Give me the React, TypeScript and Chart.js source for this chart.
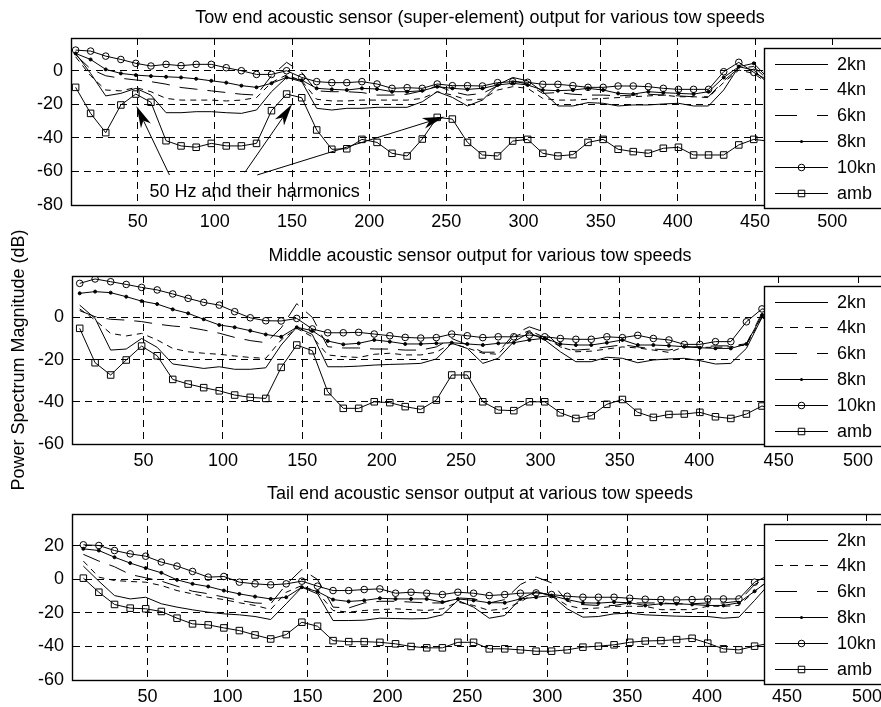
import React, { useEffect, useRef } from "react";
import { Chart, registerables } from "chart.js";

Chart.register(...registerables);

// ---------- data ----------
const FREQ_HZ = [9.8, 19.5, 29.3, 39.1, 48.8, 58.6, 68.4, 78.1, 87.9, 97.7, 107.4, 117.2, 127.0, 136.7, 146.5, 156.3, 166.0, 175.8, 185.5, 195.3, 205.1, 214.8, 224.6, 234.4, 244.1, 253.9, 263.7, 273.4, 283.2, 293.0, 302.7, 312.5, 322.3, 332.0, 341.8, 351.6, 361.3, 371.1, 380.9, 390.6, 400.4, 410.2, 419.9, 429.7, 439.5, 449.2, 459.0, 468.8, 478.5, 488.3, 498.0, 507.8, 517.6];

const SERIES_LABELS = ["2kn", "4kn", "6kn", "8kn", "10kn", "amb"];
const X_TICKS = [50, 100, 150, 200, 250, 300, 350, 400, 450, 500];
const TOP_Y_TICKS = [-80, -60, -40, -20, 0];
const MID_Y_TICKS = [-60, -40, -20, 0];
const BOT_Y_TICKS = [-60, -40, -20, 0, 20];

const TOP_TITLE = "Tow end acoustic sensor (super-element) output for various tow speeds";
const MID_TITLE = "Middle acoustic sensor output for various tow speeds";
const BOT_TITLE = "Tail end acoustic sensor output at various tow speeds";
const Y_LABEL = "Power Spectrum Magnitude (dB)";

const TOP_2KN = [10.3, -1.6, -15.0, -13.5, -10.5, -14.5, -25.0, -25.0, -24.4, -24.4, -25.0, -25.4, -23.4, -12.5, -4.0, -6.5, -22.4, -23.4, -22.4, -22.4, -21.8, -21.8, -21.8, -18.5, -12.5, -15.9, -21.0, -17.5, -8.5, -4.0, -6.0, -12.5, -21.0, -21.0, -19.0, -19.4, -21.0, -20.4, -20.4, -19.8, -19.4, -21.0, -21.0, -11.5, 2.4, 0.4, -8, -12, -14, -15, -15, -16, -16];
const TOP_4KN = [8.3, -3, -11.5, -12, -10, -12.5, -16.5, -17.5, -17.5, -17.5, -18, -17.5, -16, -7, -2.5, -6, -17, -18, -18, -17.5, -17.5, -17.5, -17.5, -16.5, -12.5, -14.5, -17.5, -16.9, -11.5, -9.5, -10.5, -16.5, -17.5, -17.5, -17, -16.5, -16, -15.5, -15, -14.5, -15.5, -15.5, -16, -7, 0.4, -1.6, -8, -11, -13, -13, -14, -14, -15];
const TOP_6KN = [9.5, 1, -3, -4.5, -5.5, -6.5, -8, -10, -11, -12, -13, -14, -14.5, -3, 5, -1, -12, -12.5, -12.5, -13, -14.5, -14.5, -14, -12, -9, -12.5, -14.5, -13.5, -9, -6, -8, -13.5, -13, -14, -14.5, -14.5, -15, -14.5, -14, -14.5, -15, -15.5, -15.5, -6, 1.5, 2.5, -6, -10, -12, -12, -13, -13, -14];
const TOP_8KN = [10.3, 6.7, 0.8, -1.6, -2.6, -3.2, -3.6, -4.0, -4.8, -6.0, -7.1, -8.9, -9.9, -7.5, -4.0, -5.6, -10.5, -11.1, -11.5, -10.5, -10.9, -12.5, -12.5, -11.9, -9.5, -10.5, -11.1, -10.5, -8.5, -7.5, -8.5, -11.5, -11.9, -11.5, -10.5, -11.5, -13.5, -13.9, -12.5, -13.1, -13.5, -13.9, -12.5, -4.0, 2.4, 4.4, -5, -9, -11, -11, -12, -12, -13];
const TOP_10KN = [12.3, 11.7, 8.7, 6.7, 4.4, 2.8, 3.8, 3.0, 3.8, 3.8, 1.8, 0.0, -2.2, -2.2, 0.0, -4.0, -6.5, -7.1, -7.1, -6.5, -7.9, -10.5, -10.1, -10.5, -7.9, -8.9, -8.9, -9.1, -7.1, -6.5, -6.9, -8.1, -8.1, -8.9, -9.9, -9.9, -9.1, -9.1, -9.5, -10.5, -11.1, -11.1, -11.1, -0.6, 5.0, -1.0, -6, -9, -10, -10, -11, -11, -12];
const TOP_AMB = [-9.9, -25.4, -36.9, -20.4, -13.9, -18.8, -41.7, -44.8, -45.6, -43.3, -44.8, -44.8, -43.3, -23.8, -13.9, -16.1, -35.3, -46.8, -46.5, -40.9, -42.7, -49.2, -50.8, -40.7, -27.8, -28.8, -42.7, -50.2, -50.8, -41.9, -40.9, -49.2, -50.8, -50.0, -42.7, -40.9, -46.8, -48.2, -49.2, -46.2, -45.6, -50.2, -50.2, -50.2, -44.2, -40.9, -42, -45, -47, -46, -45, -47, -48];

const MID_2KN = [5.8, -0.5, -15.5, -15.0, -10.0, -14.2, -22.1, -23.1, -24.2, -23.4, -24.6, -24.6, -23.9, -13.1, -4.7, -8.1, -23.4, -23.4, -23.1, -22.6, -22.3, -22.1, -21.8, -19.7, -12.3, -14.7, -21.8, -19.4, -11.5, -7.3, -10.7, -16.3, -21.0, -21.0, -18.9, -19.4, -21.5, -20.2, -19.7, -19.4, -20.5, -22.1, -21.8, -14.7, 0, -5, -10, -13, -15, -16, -16, -17, -17];
const MID_4KN = [4, -1.3, -7.6, -8.8, -7.6, -10.7, -14.7, -16.3, -17, -17.5, -18.3, -19, -19.4, -10.7, -5.2, -9.2, -17.8, -18.6, -19, -17.5, -17, -17.8, -17.8, -16.5, -12.3, -14.5, -17, -17.5, -9.2, -6.3, -9.5, -13.9, -16.3, -16, -15, -14, -14.5, -15.5, -16.6, -13.9, -14.2, -14.2, -13.9, -13.1, 0, -5, -9, -12, -13, -14, -14, -15, -15];
const MID_6KN = [3.2, 0.3, -0.9, -1.3, -2, -3.2, -4.1, -4.7, -6, -7.5, -9.5, -11, -12, -5, 6.5, 0, -13.9, -14.5, -14.5, -15, -15, -15.5, -15.5, -14, -10, -13, -16.5, -16.5, -8, -4.5, -7, -14, -15.5, -15, -14, -13, -14, -15, -15.5, -14, -14, -13.5, -13.5, -12.5, 2, -3, -7, -10, -12, -13, -13, -14, -14];
const MID_8KN = [11.4, 12.2, 11.7, 9.8, 7.7, 6.3, 3.8, 1.9, -0.9, -3.6, -4.7, -6.3, -8.1, -9.2, -4.7, -6.3, -11.2, -12.8, -12.3, -10.7, -11.5, -12.6, -12.6, -12.3, -12.0, -12.6, -13.1, -12.3, -12.0, -10.7, -9.9, -12.6, -13.1, -13.1, -12.0, -10.7, -13.1, -13.1, -13.4, -13.9, -14.4, -14.7, -14.7, -12.6, 1, -4, -8, -10, -11, -12, -12, -13, -13];
const MID_10KN = [16.1, 18.2, 16.9, 15.6, 14.2, 13.0, 11.1, 9.0, 7.1, 5.8, 2.7, -0.2, -1.6, -1.7, -0.5, -5.5, -7.3, -7.3, -7.1, -7.9, -8.7, -9.5, -9.8, -9.6, -7.9, -8.7, -9.6, -9.2, -9.2, -8.4, -9.2, -10.0, -10.4, -10.4, -9.2, -9.6, -8.5, -10.0, -10.7, -12.8, -12.8, -11.5, -11.5, -2.1, 4, 3, -2, -6, -8, -9, -10, -10, -11];
const MID_AMB = [-5.2, -21.5, -27.3, -20.2, -13.6, -18.2, -29.4, -31.6, -33.3, -34.8, -36.8, -37.9, -38.4, -23.7, -13.1, -15.8, -35.2, -43.1, -43.1, -40.0, -40.4, -42.3, -43.6, -39.2, -27.3, -27.3, -40.0, -43.9, -44.2, -40.0, -40.0, -45.2, -47.9, -46.6, -41.2, -38.9, -45.0, -47.4, -46.0, -45.8, -45.0, -47.1, -47.9, -45.8, -42, -44, -46, -47, -45, -46, -47, -46, -47];

const BOT_2KN = [8.0, -1.0, -9.6, -11.6, -10.6, -14.5, -16.5, -18.1, -19.5, -20.5, -21.1, -22.1, -23.9, -14.5, -4.6, -8.6, -24.5, -24.5, -24.3, -23.1, -23.3, -23.5, -23.3, -21.1, -12.5, -16.5, -23.1, -21.5, -11.6, -7.2, -9.6, -17.5, -22.5, -22.1, -20.5, -20.1, -21.1, -21.5, -21.9, -22.1, -22.1, -23.1, -22.5, -12.5, -2, -6, -10, -13, -15, -16, -16, -17, -17];
const BOT_4KN = [11, 1.4, -0.6, -1.2, -1.6, -3.6, -6.6, -8.6, -10.6, -12, -13.9, -15.5, -17.9, -7.6, -3.6, -7.6, -18.5, -19.5, -18.5, -18, -17.5, -18, -18.5, -17.5, -13.5, -15.5, -18.5, -17.5, -13.5, -7.5, -9.5, -15.5, -17.5, -17, -16, -16, -16, -18, -18, -18, -16, -16, -15.5, -7, 0, -5, -9, -12, -13, -14, -14, -15, -15];
const BOT_6KN = [15, 11, 7.6, 3, 1, -1, -4, -7, -8.5, -10.5, -12.5, -14, -14.5, -3, 6, 0, -16.5, -17, -14, -13, -13, -13.5, -14, -14, -11, -11.5, -14, -12, -3, 1.5, -2, -13, -15, -15.5, -15.5, -14, -14, -14, -14.5, -14.5, -14, -14, -13, -3, 2, -3, -7, -10, -11, -12, -12, -13, -13];
const BOT_8KN = [18.3, 17.3, 13.3, 9.8, 6.8, 4.0, -0.2, -2.6, -4.2, -6.6, -8.6, -10.2, -11.6, -10.6, -4.6, -7.2, -12.0, -13.1, -12.5, -11.2, -11.6, -11.6, -11.6, -13.5, -11.6, -12.5, -13.9, -13.9, -11.6, -10.6, -9.6, -12.0, -13.9, -14.1, -13.5, -13.9, -15.5, -14.5, -14.5, -14.9, -15.5, -15.5, -13.9, -7, 0, -4, -8, -10, -11, -12, -12, -13, -13];
const BOT_10KN = [20.7, 20.3, 17.3, 15.3, 13.9, 10.4, 8.0, 4.8, 1.4, 1.8, -1.6, -2.6, -3.2, -2.6, -1.0, -4.0, -6.6, -6.6, -6.0, -5.6, -8.2, -7.6, -8.2, -9.0, -7.6, -8.2, -9.6, -9.0, -8.2, -8.0, -9.0, -10.0, -10.6, -10.6, -10.6, -11.2, -11.8, -12.0, -12.2, -12.0, -11.6, -11.6, -11.6, -1.6, 3, -2, -6, -8, -9, -10, -10, -11, -11];
const BOT_AMB = [0.8, -7.6, -14.9, -17.1, -17.5, -19.1, -23.1, -26.5, -27.1, -28.9, -30.5, -33.1, -35.5, -32.9, -25.5, -27.9, -36.5, -37.1, -37.1, -37.5, -38.4, -40.0, -40.8, -40.8, -37.5, -37.5, -41.4, -41.4, -42.0, -42.8, -42.8, -42.0, -40.4, -39.8, -39.0, -37.5, -36.7, -36.5, -35.9, -35.1, -38.0, -41.4, -42.0, -39.8, -38, -40, -42, -43, -41, -42, -43, -42, -43];

// annotation in the top panel (Hz, dB)
const NOTE_TEXT = "50 Hz and their harmonics";
const NOTE_AT = [57.7, -75];
const ARROW_TAILS = [[70.6, -62.1], [119.5, -60.5], [127.5, -62.1]];
const ARROW_TIPS = [[49.2, -21.0], [150.0, -20.0], [248.8, -27.4]];

// ---------- styles ----------
const FONT = "'Liberation Sans', Arial, Helvetica, sans-serif";
const FS = 18;
const CANVAS_W = 960;
const TITLE_BLOCK = 38;
const X_AXIS_H = 30;
const GRID_DASH = [7, 5];
const STYLES = [
  { dash: [], legendDash: [], radius: 0, pointStyle: "circle", fill: "#000" },
  { dash: [6, 5], legendDash: [8, 7], radius: 0, pointStyle: "circle", fill: "#000" },
  { dash: [18, 10], legendDash: [22, 20], radius: 0, pointStyle: "circle", fill: "#000" },
  { dash: [], legendDash: [], radius: 1.5, pointStyle: "circle", fill: "#000" },
  { dash: [], legendDash: [], radius: 3.3, pointStyle: "circle", fill: "rgba(0,0,0,0)" },
  { dash: [], legendDash: [], radius: 4.6, pointStyle: "rect", fill: "rgba(0,0,0,0)" },
];

type Panel = {
  title: string; chartTop: number; plotH: number; chartLeft: number; extra: number;
  xMin: number; xMax: number; yMin: number; yMax: number; yTicks: number[];
  values: number[][]; yLabel?: string; note?: boolean;
};

const PANELS: Panel[] = [
  { title: TOP_TITLE, chartTop: 38, plotH: 167, chartLeft: 71, extra: 0, xMin: 6.8, xMax: 579.2, yMin: -80, yMax: 19.5, yTicks: TOP_Y_TICKS,
    values: [TOP_2KN, TOP_4KN, TOP_6KN, TOP_8KN, TOP_10KN, TOP_AMB], note: true },
  { title: MID_TITLE, chartTop: 276, plotH: 168, chartLeft: 72, extra: 40, xMin: 4.95, xMax: 560.7, yMin: -60, yMax: 19.6, yTicks: MID_Y_TICKS,
    values: [MID_2KN, MID_4KN, MID_6KN, MID_8KN, MID_10KN, MID_AMB], yLabel: Y_LABEL },
  { title: BOT_TITLE, chartTop: 514, plotH: 166, chartLeft: 72, extra: 0, xMin: 2.7, xMax: 554.7, yMin: -60, yMax: 39.1, yTicks: BOT_Y_TICKS,
    values: [BOT_2KN, BOT_4KN, BOT_6KN, BOT_8KN, BOT_10KN, BOT_AMB] },
];

const framePlugin = {
  id: "frameBox",
  afterDatasetsDraw(chart: any) {
    const { ctx, chartArea: a } = chart;
    ctx.save();
    ctx.setLineDash([]);
    ctx.strokeStyle = "#000";
    ctx.lineWidth = 1.4;
    ctx.strokeRect(Math.round(a.left) + 0.5, Math.round(a.top) + 0.5, Math.round(a.right - a.left), Math.round(a.bottom - a.top));
    ctx.restore();
  },
};

function drawArrow(ctx: CanvasRenderingContext2D, x1: number, y1: number, x2: number, y2: number) {
  const ang = Math.atan2(y2 - y1, x2 - x1);
  const L = 22, W = 5.5, notch = 6;
  const c = Math.cos(ang), s = Math.sin(ang);
  const nx = -s, ny = c;
  const mx = x2 - c * (L - notch), my = y2 - s * (L - notch);
  ctx.beginPath();
  ctx.moveTo(x1, y1);
  ctx.lineTo(mx, my);
  ctx.stroke();
  const bx = x2 - c * L, by = y2 - s * L;
  ctx.beginPath();
  ctx.moveTo(x2, y2);
  ctx.lineTo(bx + nx * W, by + ny * W);
  ctx.lineTo(mx, my);
  ctx.lineTo(bx - nx * W, by - ny * W);
  ctx.closePath();
  ctx.fill();
}

const notePlugin = {
  id: "noteArrows",
  afterDatasetsDraw(chart: any) {
    if (!chart.options.plugins.noteArrows?.show) return;
    const { ctx } = chart;
    const xs = chart.scales.x, ys = chart.scales.y;
    ctx.save();
    ctx.setLineDash([]);
    ctx.strokeStyle = "#000";
    ctx.fillStyle = "#000";
    ctx.lineWidth = 1;
    ARROW_TAILS.forEach((t, i) => {
      const h = ARROW_TIPS[i];
      drawArrow(ctx, xs.getPixelForValue(t[0]), ys.getPixelForValue(t[1]), xs.getPixelForValue(h[0]), ys.getPixelForValue(h[1]));
    });
    ctx.font = `${FS}px ${FONT}`;
    ctx.textAlign = "left";
    ctx.textBaseline = "alphabetic";
    ctx.fillText(NOTE_TEXT, xs.getPixelForValue(NOTE_AT[0]), ys.getPixelForValue(NOTE_AT[1]));
    ctx.restore();
  },
};

const legendPlugin = {
  id: "boxLegend",
  afterDraw(chart: any) {
    const { ctx, chartArea: a } = chart;
    const left = 764, top = Math.round(a.top) + 10, w = 220, h = 160;
    ctx.save();
    ctx.setLineDash([]);
    ctx.fillStyle = "#fff";
    ctx.fillRect(left, top, w, h);
    ctx.strokeStyle = "#000";
    ctx.lineWidth = 1.4;
    ctx.strokeRect(left + 0.5, top + 0.5, w, h);
    ctx.font = `${FS}px ${FONT}`;
    ctx.textAlign = "left";
    ctx.textBaseline = "middle";
    chart.data.datasets.forEach((ds: any, i: number) => {
      const y = Math.round(top + 15.5 + i * 25.8) + 0.5;
      const st = STYLES[i];
      ctx.lineWidth = 1;
      ctx.strokeStyle = "#000";
      ctx.setLineDash(st.legendDash);
      ctx.beginPath();
      ctx.moveTo(775, y);
      ctx.lineTo(828, y);
      ctx.stroke();
      ctx.setLineDash([]);
      const cx = 801.5;
      if (st.radius > 0) {
        ctx.beginPath();
        if (st.pointStyle === "rect") {
          const half = st.radius * Math.SQRT1_2;
          ctx.rect(cx - half, y - half, half * 2, half * 2);
          ctx.stroke();
        } else {
          ctx.arc(cx, y, st.radius, 0, Math.PI * 2);
          if (st.fill === "#000") ctx.fill(); else ctx.stroke();
        }
      }
      ctx.fillStyle = "#000";
      ctx.fillText(ds.label, 837, y + 1);
    });
    ctx.restore();
  },
};

function canvasTop(p: Panel) { return p.chartTop - TITLE_BLOCK - p.extra; }
function canvasH(p: Panel) { return TITLE_BLOCK + p.plotH + X_AXIS_H + 2 * p.extra; }

function buildConfig(p: Panel): any {
  const datasets = SERIES_LABELS.map((label, j) => {
    const st = STYLES[j];
    return {
      label,
      data: FREQ_HZ.map((f, k) => ({ x: f, y: p.values[j][k] })),
      borderColor: "#000",
      borderWidth: 1,
      borderDash: st.dash,
      pointRadius: st.radius,
      pointHoverRadius: st.radius,
      pointStyle: st.pointStyle,
      pointBackgroundColor: st.fill,
      pointBorderColor: "#000",
      pointBorderWidth: 1,
      fill: false,
      tension: 0,
    };
  });
  const tickFont = { family: FONT, size: FS };
  return {
    type: "line",
    data: { datasets },
    options: {
      responsive: false,
      animation: false,
      devicePixelRatio: 1,
      layout: { padding: { top: p.extra, bottom: p.extra, left: 0, right: 0 } },
      events: [],
      plugins: {
        legend: { display: false },
        tooltip: { enabled: false },
        title: { display: true, text: p.title, color: "#000", font: { family: FONT, size: FS, weight: "normal" }, padding: { top: 7.2, bottom: 9.2 } },
        noteArrows: { show: !!p.note },
      },
      scales: {
        x: {
          type: "linear",
          min: p.xMin,
          max: p.xMax,
          afterBuildTicks: (s: any) => { s.ticks = X_TICKS.map((v) => ({ value: v })); },
          afterFit: (s: any) => { s.height = X_AXIS_H; },
          ticks: { color: "#000", font: tickFont, padding: 6, maxRotation: 0, autoSkip: false },
          grid: { color: "#000", lineWidth: 1, drawTicks: false },
          border: { display: true, color: "#000", width: 1, dash: GRID_DASH },
        },
        y: {
          type: "linear",
          min: p.yMin,
          max: p.yMax,
          afterBuildTicks: (s: any) => { s.ticks = p.yTicks.map((v) => ({ value: v })); },
          afterFit: (s: any) => { s.width = p.chartLeft; },
          ticks: { color: "#000", font: tickFont, padding: 8, autoSkip: false },
          grid: { color: "#000", lineWidth: 1, drawTicks: false },
          border: { display: true, color: "#000", width: 1, dash: GRID_DASH },
          title: p.yLabel ? { display: true, text: p.yLabel, color: "#000", font: { family: FONT, size: FS }, padding: { top: 8, bottom: 0 } } : { display: false },
        },
      },
    },
    plugins: [framePlugin, notePlugin, legendPlugin],
  };
}

export default function App() {
  const r0 = useRef<HTMLCanvasElement>(null);
  const r1 = useRef<HTMLCanvasElement>(null);
  const r2 = useRef<HTMLCanvasElement>(null);
  const refs = [r0, r1, r2];
  useEffect(() => {
    const charts = PANELS.map((p, i) => new Chart(refs[i].current as HTMLCanvasElement, buildConfig(p)));
    return () => charts.forEach((c) => c.destroy());
  }, []);
  return (
    <div style={{ position: "fixed", left: 0, top: 0, width: 881, height: 707, overflow: "hidden", background: "#fff" }}>
      {PANELS.map((p, i) => (
        <canvas
          key={i}
          ref={refs[i]}
          width={CANVAS_W}
          height={canvasH(p)}
          style={{ position: "absolute", left: 0, top: canvasTop(p), width: CANVAS_W, height: canvasH(p) }}
        />
      ))}
    </div>
  );
}
